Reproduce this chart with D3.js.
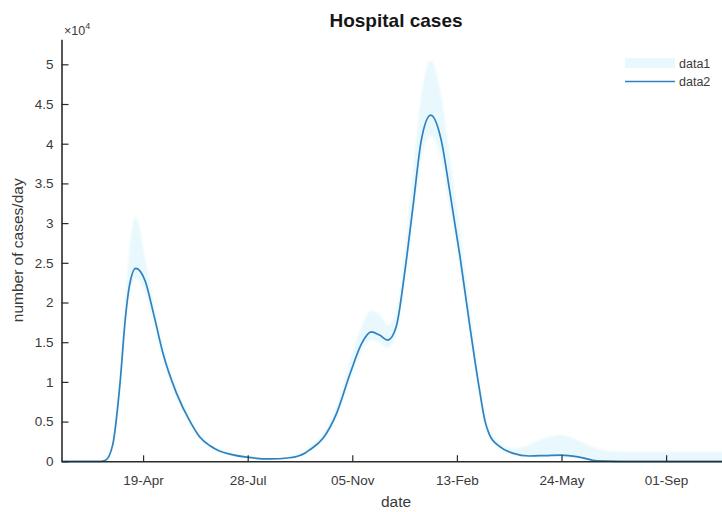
<!DOCTYPE html>
<html>
<head>
<meta charset="utf-8">
<script src="https://cdn.jsdelivr.net/npm/d3@7"></script>
<style>
  html, body { margin: 0; padding: 0; background: #fff; }
  svg { display: block; font-family: "Liberation Sans", Arial, sans-serif; }
</style>
</head>
<body>
<svg id="chart" width="722" height="512"></svg>
<script>
// Daily hospital cases: central estimate (data2) and its uncertainty band (data1)
const dates = [
  "2020-02-01","2020-03-09","2020-03-14","2020-03-21","2020-03-28","2020-04-02","2020-04-06",
  "2020-04-12","2020-04-21","2020-04-29","2020-05-08","2020-05-21","2020-06-03","2020-06-12",
  "2020-06-22","2020-07-01","2020-07-13","2020-07-27","2020-08-18","2020-09-06","2020-09-21",
  "2020-09-25","2020-10-08","2020-10-21","2020-11-03","2020-11-14","2020-11-23","2020-12-01",
  "2020-12-09","2020-12-17","2020-12-25","2021-01-02","2021-01-10","2021-01-19","2021-01-29",
  "2021-02-06","2021-02-16","2021-02-25","2021-03-06","2021-03-12","2021-03-16","2021-03-26",
  "2021-04-08","2021-04-23","2021-05-08","2021-05-24","2021-06-11","2021-06-27","2021-07-19",
  "2021-11-03"
];
const cases = [
  0, 0, 120, 2100, 9900, 17950, 22150,
  24300, 22700, 18600, 13600, 8560, 5000, 3100,
  1950, 1300, 850, 520, 300, 450, 1050,
  1420, 2900, 6040, 11080, 14860, 16300, 15900,
  15270, 16950, 23670, 32050, 40450, 43600, 40450,
  34160, 25760, 17370, 9500, 5000, 3400, 1840,
  1000, 670, 720, 790, 500, 50, 0,
  0
];
const bandUpper = [
  0, 0, 250, 2700, 11500, 20500, 26500,
  30800, 25500, 20000, 14600, 9200, 5400, 3450,
  2200, 1500, 1000, 650, 420, 620, 1350,
  1800, 3500, 7000, 12600, 17000, 19000, 18500,
  17200, 18800, 26500, 36500, 46000, 50500, 46000,
  38500, 29000, 19800, 10800, 6000, 4100, 2400,
  1600, 2100, 2900, 3300, 2500, 1600, 1200,
  1200
];
const bandLower = [
  0, 0, 0, 1700, 8800, 16500, 20800,
  23000, 21200, 17500, 12800, 8000, 4600, 2800,
  1700, 1100, 700, 420, 230, 380, 950,
  1300, 2650, 5500, 10200, 13900, 15300, 14900,
  14300, 16000, 22300, 30000, 38000, 41000, 38000,
  32000, 24200, 16200, 8700, 4500, 3000, 1600,
  850, 550, 500, 500, 300, 0, 0,
  0
];
const xTickDates = ["2020-04-19","2020-07-28","2020-11-05","2021-02-13","2021-05-24","2021-09-01"];
const yTicks = [0, 5000, 10000, 15000, 20000, 25000, 30000, 35000, 40000, 45000, 50000];
const xDomain = ["2020-02-01", "2021-11-03"];
const yMax = 53150;
const legendLabels = ["data1", "data2"];

const parse = d3.utcParse("%Y-%m-%d");
const rows = dates.map((d, i) => ({
  date: parse(d), value: cases[i], hi: bandUpper[i], lo: bandLower[i]
}));

const svg = d3.select("#chart");
const plotL = 61.5, plotR = 732, plotT = 39.3, plotB = 461.3;

const x = d3.scaleUtc().domain(xDomain.map(parse)).range([plotL, plotR]);
const y = d3.scaleLinear().domain([0, yMax]).range([plotB, plotT]);

const bandColor = "#e8f8fc";
const lineColor = "#2f82bf";
const axisColor = "#2b2b2b";
const textColor = "#3a3a3a";

const smooth = d3.curveMonotoneX;

// soft edge for the band
svg.append("defs").append("filter")
  .attr("id", "soft")
  .attr("x", "-5%").attr("y", "-5%").attr("width", "110%").attr("height", "110%")
  .append("feGaussianBlur").attr("stdDeviation", 1.2);

// uncertainty band
svg.append("path")
  .datum(rows)
  .attr("fill", bandColor)
  .attr("filter", "url(#soft)")
  .attr("d", d3.area()
    .x(d => x(d.date))
    .y0(d => y(d.lo))
    .y1(d => y(d.hi))
    .curve(smooth));

// central estimate
svg.append("path")
  .datum(rows)
  .attr("fill", "none")
  .attr("stroke", lineColor)
  .attr("stroke-width", 1.7)
  .attr("d", d3.line()
    .x(d => x(d.date))
    .y(d => y(d.value))
    .curve(smooth));

// x axis (ticks point into the plot)
const fmt = d3.utcFormat("%d-%b");
const xAxis = svg.append("g")
  .attr("transform", `translate(0,${plotB})`)
  .call(d3.axisBottom(x)
    .tickValues(xTickDates.map(parse))
    .tickFormat(fmt)
    .tickSizeInner(-6)
    .tickSizeOuter(0)
    .tickPadding(14));
xAxis.select(".domain").attr("stroke", axisColor).attr("stroke-width", 1.6);
xAxis.selectAll(".tick line").attr("stroke", axisColor).attr("stroke-width", 1.2);
xAxis.selectAll(".tick text")
  .attr("fill", textColor).attr("font-size", 13.5).attr("font-family", "Liberation Sans, Arial, sans-serif");

// y axis (scaled by 10^4)
const yAxis = svg.append("g")
  .attr("transform", `translate(${plotL},0)`)
  .call(d3.axisLeft(y)
    .tickValues(yTicks)
    .tickFormat(v => d3.format("~g")(v / 10000))
    .tickSizeInner(-7)
    .tickSizeOuter(0)
    .tickPadding(8));
yAxis.select(".domain").attr("stroke", axisColor).attr("stroke-width", 1.6);
yAxis.selectAll(".tick line").attr("stroke", axisColor).attr("stroke-width", 1.2);
yAxis.selectAll(".tick text")
  .attr("fill", textColor).attr("font-size", 13.5).attr("font-family", "Liberation Sans, Arial, sans-serif");

// exponent marker
const expo = svg.append("text")
  .attr("x", 64).attr("y", 35)
  .attr("fill", textColor).attr("font-size", 12.5);
expo.append("tspan").text("\u00d710");
expo.append("tspan").attr("dy", -6).attr("font-size", 9).text("4");

// title
svg.append("text")
  .attr("x", 396).attr("y", 27)
  .attr("text-anchor", "middle")
  .attr("font-weight", "bold").attr("font-size", 19)
  .attr("fill", "#161616")
  .text("Hospital cases");

// axis labels
svg.append("text")
  .attr("x", 396).attr("y", 507)
  .attr("text-anchor", "middle")
  .attr("font-size", 15.5).attr("fill", textColor)
  .text("date");
svg.append("text")
  .attr("transform", `translate(23,${(plotT + plotB) / 2}) rotate(-90)`)
  .attr("text-anchor", "middle")
  .attr("font-size", 15.5).attr("fill", textColor)
  .text("number of cases/day");

// legend
const lg = svg.append("g");
lg.append("rect")
  .attr("x", 625).attr("y", 58).attr("width", 50).attr("height", 10)
  .attr("fill", bandColor);
lg.append("line")
  .attr("x1", 625).attr("x2", 675).attr("y1", 81.5).attr("y2", 81.5)
  .attr("stroke", lineColor).attr("stroke-width", 1.7);
lg.selectAll("text.lbl").data(legendLabels).join("text")
  .attr("class", "lbl")
  .attr("x", 679).attr("y", (d, i) => 68 + i * 18)
  .attr("font-size", 12.5).attr("fill", textColor)
  .text(d => d);
</script>
</body>
</html>
